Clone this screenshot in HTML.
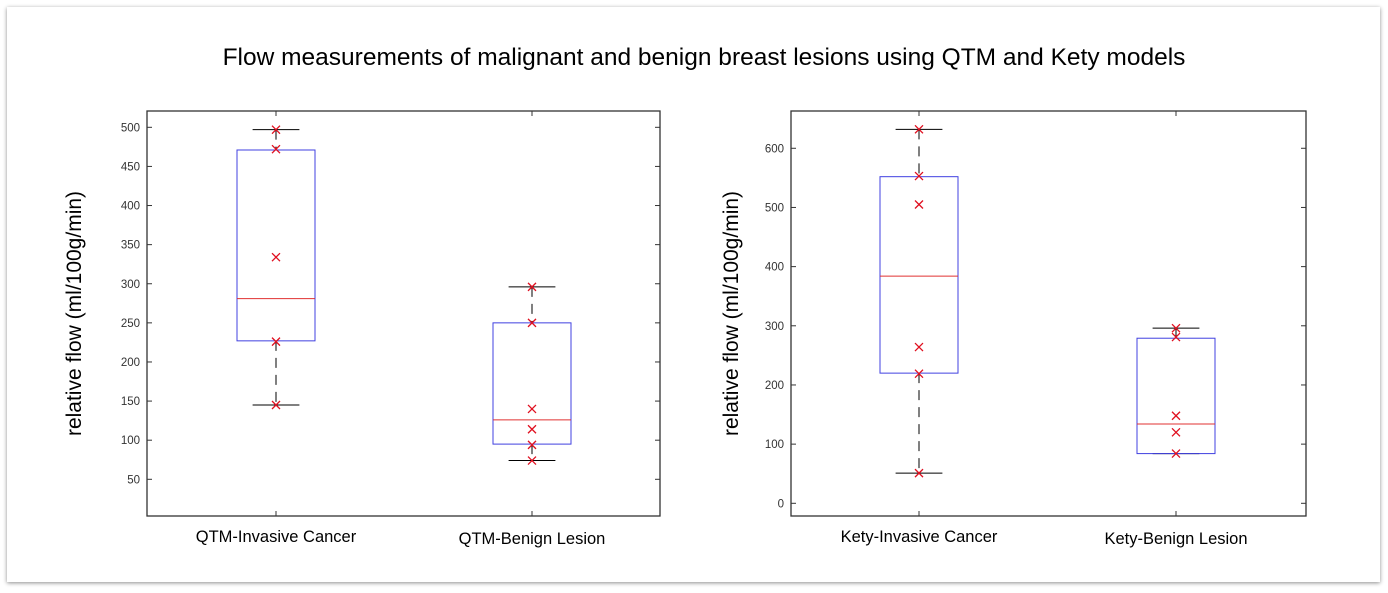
<!DOCTYPE html>
<html><head><meta charset="utf-8">
<style>
body{margin:0;background:#fff;width:1388px;height:593px;overflow:hidden;font-family:"Liberation Sans",sans-serif}
#card{position:absolute;left:7px;top:7px;width:1373px;height:575px;background:#fff;box-shadow:0 1px 4px rgba(0,0,0,0.45);}
svg{position:absolute;left:0;top:0}
</style></head>
<body>
<div id="card"></div>
<svg id="chart" width="1388" height="593">
<text x="704" y="65" font-size="24.5" text-anchor="middle" fill="#000">Flow measurements of malignant and benign breast lesions using QTM and Kety models</text>
</svg>
<script>
const qtmCategories = ["QTM-Invasive Cancer", "QTM-Benign Lesion"];
const qtmLow = [145, 74];
const qtmQ1 = [227, 95];
const qtmMedian = [281, 126];
const qtmQ3 = [471, 250];
const qtmHigh = [497, 296];
const qtmPoints = [[497, 472, 334, 226, 145], [296, 250, 140, 114, 94, 74]];
const qtmTicks = [50, 100, 150, 200, 250, 300, 350, 400, 450, 500];

const ketyCategories = ["Kety-Invasive Cancer", "Kety-Benign Lesion"];
const ketyLow = [51, 84];
const ketyQ1 = [220, 84];
const ketyMedian = [384, 134];
const ketyQ3 = [552, 279];
const ketyHigh = [632, 296];
const ketyPoints = [[632, 553, 505, 264, 219, 51], [296, 281, 148, 120, 84]];
const ketyTicks = [0, 100, 200, 300, 400, 500, 600];

const svg = document.getElementById('chart');
const NS = 'http://www.w3.org/2000/svg';
function mk(tag, attrs, parent) {
  const e = document.createElementNS(NS, tag);
  for (const k in attrs) e.setAttribute(k, attrs[k]);
  (parent || svg).appendChild(e);
  return e;
}

function drawPanel(p) {
  const g = mk('g', {});
  
  
  const y = v => p.y0 - (v - p.v0) * p.scale;
  const frame = mk('rect', {x: p.left, y: p.top, width: p.right - p.left, height: p.bottom - p.top, fill: 'none', stroke: '#333', 'stroke-width': 1.3}, g);
  
  
  p.ticks.forEach(t => {
    const ty = y(t);
    mk('line', {x1: p.left, x2: p.left + 5, y1: ty, y2: ty, stroke: '#333'}, g);
    mk('line', {x1: p.right, x2: p.right - 5, y1: ty, y2: ty, stroke: '#333'}, g);
    const lb = mk('text', {x: p.left - 7, y: ty + 4, 'font-size': 11.5, 'text-anchor': 'end', fill: '#333'}, g);
    lb.textContent = t;
    
    
  });
  const yl = mk('text', {x: 0, y: 0, 'font-size': 21, 'text-anchor': 'middle', fill: '#000', transform: `translate(${p.labelX},${(p.top + p.bottom) / 2}) rotate(-90)`}, g);
  yl.textContent = 'relative flow (ml/100g/min)';
  
  
  p.cats.forEach((c, i) => {
    const cx = p.cx[i], hw = p.hw;
    mk('line', {x1: cx, x2: cx, y1: p.bottom, y2: p.bottom - 5, stroke: '#333'}, g);
    mk('line', {x1: cx, x2: cx, y1: p.top, y2: p.top + 5, stroke: '#333'}, g);
    const bg = mk('g', {}, g);
    
    
    mk('line', {x1: cx, x2: cx, y1: y(p.high[i]), y2: y(p.q3[i]), stroke: '#000', 'stroke-dasharray': '10,7'}, bg);
    mk('line', {x1: cx, x2: cx, y1: y(p.q1[i]), y2: y(p.low[i]), stroke: '#000', 'stroke-dasharray': '10,7'}, bg);
    mk('line', {x1: cx - hw * 0.6, x2: cx + hw * 0.6, y1: y(p.high[i]), y2: y(p.high[i]), stroke: '#000'}, bg);
    mk('line', {x1: cx - hw * 0.6, x2: cx + hw * 0.6, y1: y(p.low[i]), y2: y(p.low[i]), stroke: '#000'}, bg);
    mk('rect', {x: cx - hw, y: y(p.q3[i]), width: 2 * hw, height: y(p.q1[i]) - y(p.q3[i]), fill: 'none', stroke: '#4040e0'}, bg);
    mk('line', {x1: cx - hw, x2: cx + hw, y1: y(p.med[i]), y2: y(p.med[i]), stroke: '#e03030'}, bg);
    p.pts[i].forEach(v => {
      const py = y(v), s = 4;
      const pt = mk('path', {d: `M${cx - s},${py - s}L${cx + s},${py + s}M${cx - s},${py + s}L${cx + s},${py - s}`, stroke: '#e01020', 'stroke-width': 1.3}, bg);
      
      
    });
    const cl = mk('text', {x: cx, y: p.bottom + 26 + (i === 1 ? 2 : 0), 'font-size': 16.5, 'text-anchor': 'middle', fill: '#000'}, g);
    cl.textContent = c;
    
    
  });
}

drawPanel({name: 'qtm-panel', left: 147, right: 660, top: 111, bottom: 516, y0: 479.3, v0: 50, scale: 0.7822, labelX: 81,
  ticks: qtmTicks, cats: qtmCategories, cx: [276, 532], hw: 39,
  low: qtmLow, q1: qtmQ1, med: qtmMedian, q3: qtmQ3, high: qtmHigh, pts: qtmPoints});
drawPanel({name: 'kety-panel', left: 791, right: 1306, top: 111, bottom: 516, y0: 503.3, v0: 0, scale: 0.5917, labelX: 738,
  ticks: ketyTicks, cats: ketyCategories, cx: [919, 1176], hw: 39,
  low: ketyLow, q1: ketyQ1, med: ketyMedian, q3: ketyQ3, high: ketyHigh, pts: ketyPoints});
</script>
</body></html>
